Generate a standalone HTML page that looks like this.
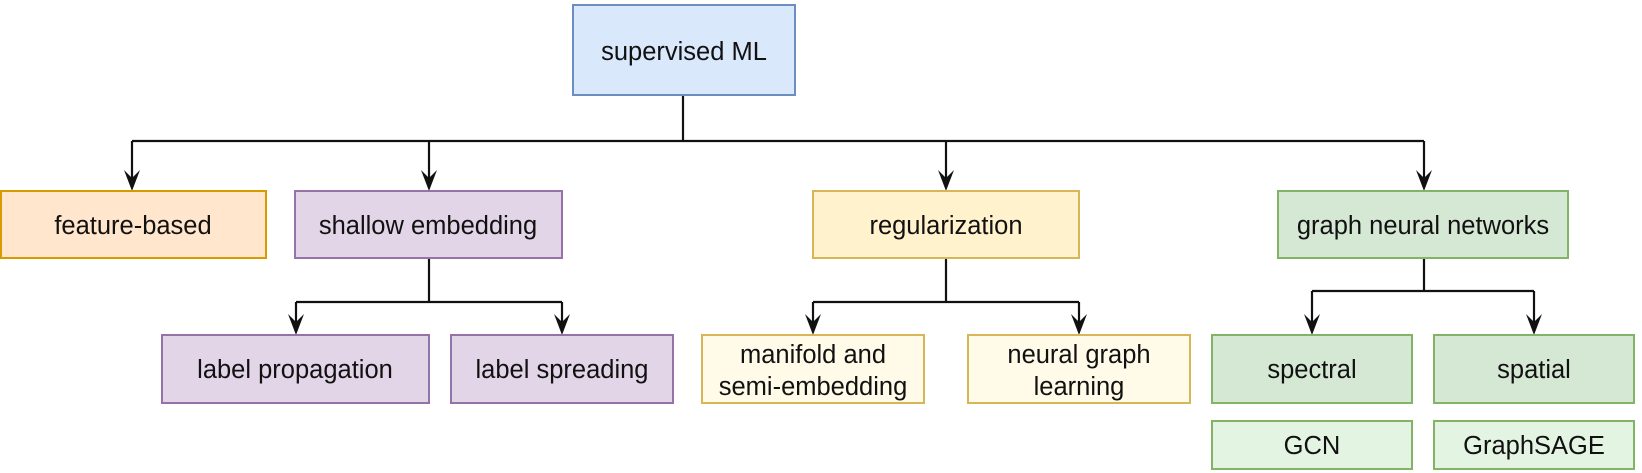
<!DOCTYPE html>
<html><head><meta charset="utf-8"><style>
html,body{margin:0;padding:0;background:#fff;}
svg{display:block;}
text{font-family:"Liberation Sans",Arial,sans-serif;font-size:25.5px;fill:#111;text-anchor:middle;dominant-baseline:central;}
</style></head><body>
<svg width="1642" height="473" viewBox="0 0 1642 473" xmlns="http://www.w3.org/2000/svg">
<defs><path id="h" d="M-8,-21 L0,0 L8,-21 L0,-13 Z" fill="#111"/></defs>
<g stroke="#111" stroke-width="2.2" fill="none">
<path d="M683,95 V141"/>
<path d="M132,141 H1424"/>
<path d="M132,141 V180"/>
<path d="M429,141 V180"/>
<path d="M946,141 V180"/>
<path d="M1424,141 V180"/>
<path d="M429,258 V302 M296,302 H562"/>
<path d="M296,302 V324"/>
<path d="M562,302 V324"/>
<path d="M946,258 V302 M813,302 H1079"/>
<path d="M813,302 V324"/>
<path d="M1079,302 V324"/>
<path d="M1424,258 V291 M1312,291 H1534"/>
<path d="M1312,291 V324"/>
<path d="M1534,291 V324"/>
</g>
<use href="#h" x="132" y="191"/>
<use href="#h" x="429" y="191"/>
<use href="#h" x="946" y="191"/>
<use href="#h" x="1424" y="191"/>
<use href="#h" x="296" y="335"/>
<use href="#h" x="562" y="335"/>
<use href="#h" x="813" y="335"/>
<use href="#h" x="1079" y="335"/>
<use href="#h" x="1312" y="335"/>
<use href="#h" x="1534" y="335"/>
<g stroke-width="2">
<rect x="573" y="5" width="222" height="90" fill="#dae8fc" stroke="#6c8ebf"/>
<rect x="1" y="191" width="265" height="67" fill="#ffe6cc" stroke="#d79b00"/>
<rect x="295" y="191" width="267" height="67" fill="#e1d5e7" stroke="#9673a6"/>
<rect x="813" y="191" width="266" height="67" fill="#fff2cc" stroke="#d6b656"/>
<rect x="1278" y="191" width="290" height="67" fill="#d5e8d4" stroke="#82b366"/>
<rect x="162" y="335" width="267" height="68" fill="#e1d5e7" stroke="#9673a6"/>
<rect x="451" y="335" width="222" height="68" fill="#e1d5e7" stroke="#9673a6"/>
<rect x="702" y="335" width="222" height="68" fill="#fffbe8" stroke="#d6b656"/>
<rect x="968" y="335" width="222" height="68" fill="#fffbe8" stroke="#d6b656"/>
<rect x="1212" y="335" width="200" height="68" fill="#d5e8d4" stroke="#82b366"/>
<rect x="1434" y="335" width="200" height="68" fill="#d5e8d4" stroke="#82b366"/>
<rect x="1212" y="421" width="200" height="48" fill="#e4f4e2" stroke="#82b366"/>
<rect x="1434" y="421" width="200" height="48" fill="#e4f4e2" stroke="#82b366"/>
</g>
<text x="684" y="52">supervised ML</text>
<text x="133" y="226">feature-based</text>
<text x="428" y="226">shallow embedding</text>
<text x="946" y="226">regularization</text>
<text x="1423" y="226">graph neural networks</text>
<text x="295" y="370">label propagation</text>
<text x="562" y="370">label spreading</text>
<text x="813" y="355">manifold and</text>
<text x="813" y="387">semi-embedding</text>
<text x="1079" y="355">neural graph</text>
<text x="1079" y="387">learning</text>
<text x="1312" y="370">spectral</text>
<text x="1534" y="370">spatial</text>
<text x="1312" y="446">GCN</text>
<text x="1534" y="446">GraphSAGE</text>
</svg>
</body></html>
